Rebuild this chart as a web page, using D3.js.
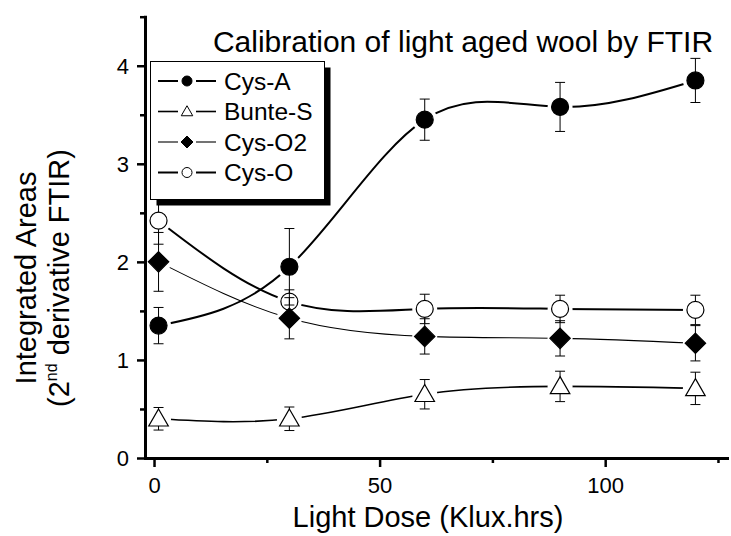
<!DOCTYPE html>
<html><head><meta charset="utf-8">
<script src="https://cdn.jsdelivr.net/npm/d3@7"></script>
<style>
html,body{margin:0;padding:0;background:#fff;}
svg{display:block;font-family:"Liberation Sans",Arial,sans-serif;}
</style></head>
<body><svg id="c" width="731" height="536"></svg>
<script>
// ---- data ----
const doses = [1, 30, 60, 90, 120];
const seriesNames = ["Cys-A", "Bunte-S", "Cys-O2", "Cys-O"];
const cysA = [1.35, 1.95, 3.45, 3.58, 3.85];
const cysAErr = [0.185, 0.39, 0.21, 0.25, 0.225];
const bunteS = [0.40, 0.40, 0.65, 0.73, 0.71];
const bunteSErr = [0.115, 0.12, 0.15, 0.155, 0.165];
const cysO2 = [2.00, 1.425, 1.24, 1.22, 1.17];
const cysO2Err = [0.30, 0.21, 0.18, 0.18, 0.18];
const cysO = [2.42, 1.595, 1.52, 1.52, 1.51];
const cysOErr = [0.24, 0.12, 0.15, 0.14, 0.15];
const xMajorTicks = [0, 50, 100];
const xMinorTicks = [25, 75, 125];
const yMajorTicks = [0, 1, 2, 3, 4];
const yMinorTicks = [0.5, 1.5, 2.5, 3.5, 4.5];
const titleText = "Calibration of light aged wool by FTIR";
const xLabel = "Light Dose (Klux.hrs)";

const svg = d3.select("#c");
const x = d3.scaleLinear().domain([-2, 127]).range([145, 727]);
const y = d3.scaleLinear().domain([0, 4.5]).range([458, 16.7]);

const series = [
  {name: seriesNames[0], v: cysA, e: cysAErr, sym: "circle", fill: "#000", lw: 2},
  {name: seriesNames[1], v: bunteS, e: bunteSErr, sym: "triangle", fill: "#fff", lw: 1.6},
  {name: seriesNames[2], v: cysO2, e: cysO2Err, sym: "diamond", fill: "#000", lw: 1.1},
  {name: seriesNames[3], v: cysO, e: cysOErr, sym: "circle", fill: "#fff", lw: 2}
];

function symPath(sym, s) {
  if (sym === "circle") return d3.symbol(d3.symbolCircle, Math.PI * s * s)();
  if (sym === "diamond") return `M0,${-s*1.2}L${s*1.2},0L0,${s*1.2}L${-s*1.2},0Z`;
  if (sym === "triangle") return `M0,${-s*1.15}L${s*1.15},${s*0.85}L${-s*1.15},${s*0.85}Z`;
}

const defs = svg.append("defs");
const drawOrder = [3, 1, 2, 0];
drawOrder.forEach(i => {
  const s = series[i];
  const pts = doses.map((d, k) => [x(d), y(s.v[k])]);
  const m = defs.append("mask").attr("id", "m" + i).attr("maskUnits", "userSpaceOnUse")
    .attr("x", 0).attr("y", 0).attr("width", 731).attr("height", 536);
  m.append("rect").attr("width", 731).attr("height", 536).attr("fill", "#fff");
  m.selectAll("circle").data(pts).join("circle")
    .attr("cx", p => p[0]).attr("cy", p => p[1]).attr("r", 12.5).attr("fill", "#000");
  const g = svg.append("g");
  g.append("path").attr("d", d3.line().curve(d3.curveNatural)(pts))
    .attr("fill", "none").attr("stroke", "#000").attr("stroke-width", s.lw)
    .attr("mask", `url(#m${i})`);
  doses.forEach((d, k) => {
    const cx = x(d), y1 = y(s.v[k] + s.e[k]), y2 = y(s.v[k] - s.e[k]);
    g.append("line").attr("x1", cx).attr("x2", cx).attr("y1", y1).attr("y2", y2)
      .attr("stroke", "#000").attr("stroke-width", 1);
    [y1, y2].forEach(yy => g.append("line").attr("x1", cx - 5).attr("x2", cx + 5)
      .attr("y1", yy).attr("y2", yy).attr("stroke", "#000").attr("stroke-width", 1));
  });
  g.selectAll("path.sym").data(pts).join("path").attr("class", "sym")
    .attr("transform", p => `translate(${p[0]},${p[1]})`)
    .attr("d", symPath(s.sym, 8.5))
    .attr("fill", s.fill).attr("stroke", "#000").attr("stroke-width", 1.2);
});

// axes
function styleAxis(g) {
  g.select(".domain").attr("stroke-width", 3).attr("stroke-linecap", "square");
  g.selectAll(".tick line").attr("stroke-width", 2.5);
  g.selectAll(".tick text").attr("font-size", 22).attr("fill", "#000")
    .attr("font-family", '"Liberation Sans",Arial,sans-serif');
}
const yAx = svg.append("g").attr("transform", "translate(145,0)")
  .call(d3.axisLeft(y).tickValues(yMajorTicks).tickFormat(d3.format("d")).tickSize(8).tickSizeOuter(0).tickPadding(8));
styleAxis(yAx);
yAx.selectAll(".tick text").attr("dy", "0.36em");
const yMin = svg.append("g").attr("transform", "translate(145,0)")
  .call(d3.axisLeft(y).tickValues(yMinorTicks).tickFormat("").tickSize(5).tickSizeOuter(0));
yMin.select(".domain").remove();
yMin.selectAll(".tick line").attr("stroke-width", 2.5);

const xAx = svg.append("g").attr("transform", "translate(0,458)")
  .call(d3.axisBottom(x).tickValues(xMajorTicks).tickFormat(d3.format("d")).tickSize(9).tickSizeOuter(0).tickPadding(10));
styleAxis(xAx);
const xMin = svg.append("g").attr("transform", "translate(0,458)")
  .call(d3.axisBottom(x).tickValues(xMinorTicks).tickFormat("").tickSize(5).tickSizeOuter(0));
xMin.select(".domain").remove();
xMin.selectAll(".tick line").attr("stroke-width", 2.5);

// title and labels
svg.append("text").attr("x", 463).attr("y", 52).attr("text-anchor", "middle")
  .attr("font-size", 30).text(titleText);
svg.append("text").attr("x", 428).attr("y", 527).attr("text-anchor", "middle")
  .attr("font-size", 29).text(xLabel);
const yl = svg.append("text").attr("transform", "translate(0,278) rotate(-90)")
  .attr("text-anchor", "middle").attr("font-size", 29);
yl.append("tspan").attr("x", 0).attr("y", 36).text("Integrated Areas");
const t2 = yl.append("tspan").attr("x", 0).attr("y", 69);
t2.append("tspan").text("(2");
t2.append("tspan").attr("font-size", 16).attr("dy", -12).text("nd");
t2.append("tspan").attr("dy", 12).text(" derivative FTIR)");

// legend
const lg = svg.append("g");
lg.append("rect").attr("x", 156.5).attr("y", 67.5).attr("width", 174).attr("height", 138).attr("fill", "#000");
lg.append("rect").attr("x", 150.5).attr("y", 61.5).attr("width", 174).attr("height", 138)
  .attr("fill", "#fff").attr("stroke", "#000").attr("stroke-width", 1);
series.forEach((s, i) => {
  const cy = 81 + i * 30.5;
  const r = lg.append("g");
  r.append("line").attr("x1", 158).attr("x2", 178).attr("y1", cy).attr("y2", cy)
    .attr("stroke", "#000").attr("stroke-width", s.lw);
  r.append("line").attr("x1", 196).attr("x2", 216).attr("y1", cy).attr("y2", cy)
    .attr("stroke", "#000").attr("stroke-width", s.lw);
  r.append("path").attr("transform", `translate(187,${cy})`).attr("d", symPath(s.sym, 5))
    .attr("fill", s.fill).attr("stroke", "#000").attr("stroke-width", 1);
  r.append("text").attr("x", 224).attr("y", cy).attr("dy", "0.36em")
    .attr("font-size", 24.5).text(s.name);
});
</script></body></html>
